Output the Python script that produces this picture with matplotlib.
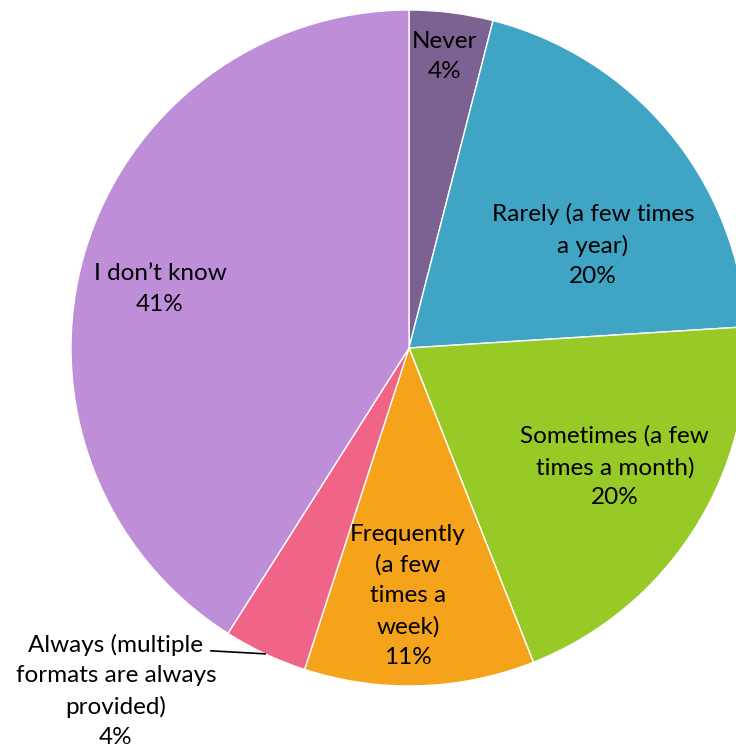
import numpy as np
import matplotlib.pyplot as plt

# Survey answers, clockwise from 12 o'clock
labels = ['Never', 'Rarely (a few times\na year)', 'Sometimes (a few\ntimes a month)',
          'Frequently\n(a few\ntimes a\nweek)', 'Always (multiple\nformats are always\nprovided)',
          'I don\u2019t know']
shares = [4, 20, 20, 11, 4, 41]
colors = ['#7b6293', '#40a4c4', '#97c927', '#f5a31a', '#f06487', '#be8ed8']

# label centres in pie units (radius = 1)
label_xy = [(0.104, 0.862), (0.544, 0.305), (0.609, -0.352), (-0.003, -0.733),
            (-0.867, -1.015), (-0.737, 0.175)]

W, H = 736, 751
fig = plt.figure(figsize=(W / 100, H / 100), dpi=100)
cx, cy, r = 409, 348, 338
ax = fig.add_axes([(cx - r) / W, 1 - (cy + r) / H, 2 * r / W, 2 * r / H])

wedges, _ = ax.pie(shares, colors=colors, startangle=90, counterclock=False,
                   radius=1, wedgeprops=dict(edgecolor='white', linewidth=1))
for w in wedges:
    w.set_clip_on(False)
ax.set_xlim(-1, 1)
ax.set_ylim(-1, 1)
ax.set_axis_off()

for lab, val, (x, y) in zip(labels, shares, label_xy):
    ax.text(x, y, f'{lab}\n{val}%', ha='center', va='center', fontsize=17.5,
            family='Lato', linespacing=1.55, color='black', clip_on=False)

# leader line for the thin "Always" slice
w = wedges[4]
mid = np.deg2rad((w.theta1 + w.theta2) / 2)
ax.plot([-0.586, np.cos(mid) * 1.0], [-0.896, np.sin(mid) * 1.0], color='black',
        lw=1.2, clip_on=False)

fig.savefig('out.png', dpi=100)
